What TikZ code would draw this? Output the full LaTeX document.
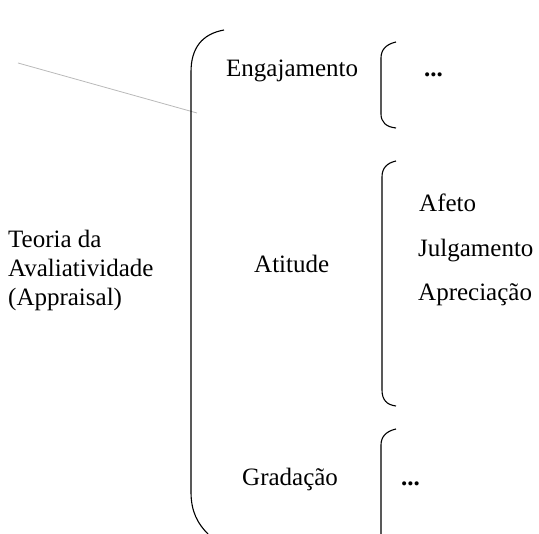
\documentclass[tikz,border=0pt]{standalone}
\usepackage{fontspec}
\setmainfont{Liberation Serif}
\begin{document}
\begin{tikzpicture}[x=1pt,y=-1pt,
  lbl/.style={font=\fontsize{25}{29}\selectfont, inner sep=0pt, anchor=base west},
  dots/.style={font=\fontsize{25}{29}\selectfont\bfseries, inner sep=0pt, anchor=base west},
  brk/.style={line width=1.1pt, black},
  ]
\useasboundingbox (0,0) rectangle (539,534);
% gray line
\draw[gray!55, line width=0.8pt] (18,63) -- (197,113);
% big bracket
\draw[brk] (224,30) .. controls (202,34) and (191,48) .. (191,72) -- (191,492) .. controls (191,512) and (198,524) .. (208,534);
% bracket 1
\draw[brk] (396,42) .. controls (387,44) and (381,49) .. (381,58) -- (381,114) .. controls (381,122) and (386,127) .. (396,128);
% bracket 2
\draw[brk] (396,161) .. controls (387,163) and (382,168) .. (382,177) -- (382,390) .. controls (382,400) and (387,405) .. (396,406);
% bracket 3
\draw[brk] (396,429) .. controls (387,431) and (381,436) .. (381,445) -- (381,534);
% texts
\node[lbl] (eng) at (226,77) {Engajamento};
\node[dots] (d1) at (424,77) {...};
\node[lbl, align=left, anchor=base west] (teo) at (8,306) {Teoria da\\Avaliatividade\\(Appraisal)};
\node[lbl] (ati) at (254,273) {Atitude};
\node[lbl] (afe) at (419,212) {Afeto};
\node[lbl] (jul) at (418,257) {Julgamento};
\node[lbl] (apr) at (418,301) {Apreciação};
\node[lbl] (gra) at (242,486) {Gradação};
\node[dots] (d2) at (401,486) {...};
\end{tikzpicture}
\end{document}
